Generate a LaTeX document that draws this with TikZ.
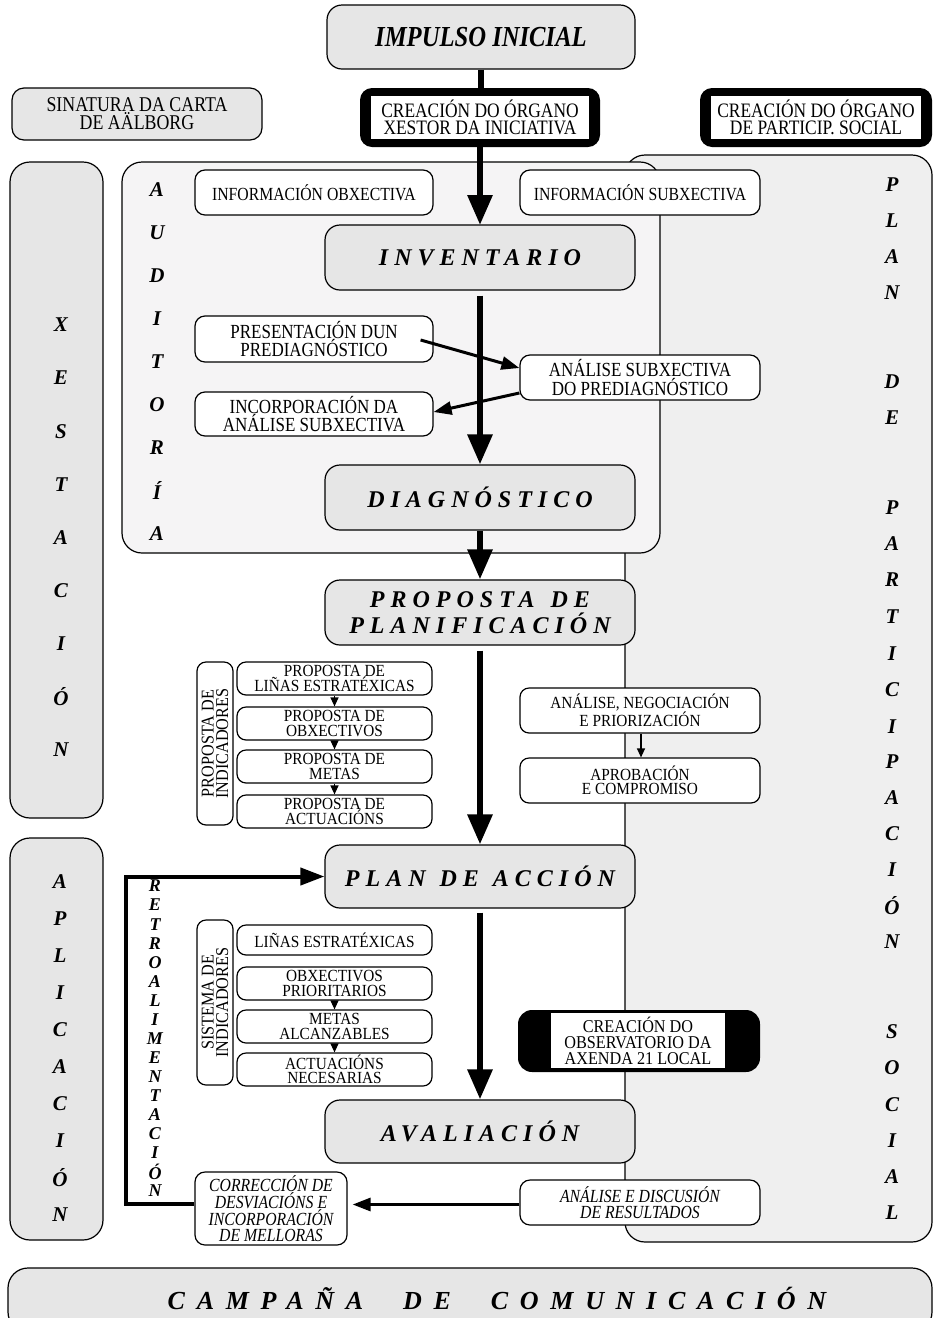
\documentclass[tikz,border=0pt]{standalone}
\usepackage{fontspec}
\setmainfont{Liberation Serif}
\newfontfamily\cnd[FakeStretch=0.85]{Liberation Serif}
\newfontfamily\cndb[FakeStretch=0.9]{Liberation Serif}
\newfontfamily\spc[LetterSpace=25]{Liberation Serif}
\newfontfamily\spcw[LetterSpace=45]{Liberation Serif}
\usetikzlibrary{arrows.meta}
\definecolor{boxgray}{HTML}{E6E6E6}
\definecolor{plangray}{HTML}{EFEFEF}
\definecolor{audgray}{HTML}{F5F4F5}
\tikzset{
  panel/.style={draw=black, line width=1.2pt, rounded corners=20pt, inner sep=0pt},
  box/.style={draw=black, line width=1.2pt, rounded corners=10pt, align=center, inner sep=0pt},
  wbox/.style={box, fill=white, font=\cnd\fontsize{20}{16.5}\selectfont},
  ibox/.style={box, fill=white, font=\cnd\fontsize{18.5}{15}\selectfont},
  gbox/.style={box, fill=boxgray, rounded corners=15pt},
  head/.style={font=\spc\bfseries\itshape\fontsize{24}{24}\selectfont},
  sbox/.style={box, fill=white, rounded corners=9pt, font=\cndb\fontsize{17}{14.5}\selectfont},
  blk/.style={fill=black, rounded corners=12pt, inner sep=0pt},
  wtext/.style={fill=white, inner sep=0pt, align=center},
  col/.style={font=\bfseries\itshape\fontsize{21}{21}\selectfont, inner sep=0pt},
  rcol/.style={font=\bfseries\itshape\fontsize{18}{18}\selectfont, inner sep=0pt},
  big/.style={line width=6pt, -{Triangle[width=24pt,length=30pt]}},
  mid/.style={line width=3pt, -{Triangle[width=13pt,length=18pt]}},
  tiny/.style={line width=1.2pt, -{Triangle[width=8pt,length=9pt]}}
}
\begin{document}
\begin{tikzpicture}[x=1pt,y=-1pt]
\useasboundingbox (0,0) rectangle (935,1318);
% panels
\node[panel, fill=plangray, minimum width=307pt, minimum height=1087pt] (plan) at (778.5,698.5) {};
\node[panel, fill=audgray, minimum width=538pt, minimum height=391pt] (aud) at (391,357.5) {};
\node[panel, fill=boxgray, minimum width=93pt, minimum height=656pt] (xest) at (56.5,490) {};
\node[panel, fill=boxgray, minimum width=93pt, minimum height=402pt] (apl) at (56.5,1039) {};
\node[panel, fill=boxgray, minimum width=924pt, minimum height=64pt] (camp) at (470,1300) {};
\node[font=\spcw\bfseries\itshape\fontsize{26}{26}\selectfont, inner sep=0pt] (campt) at (497,1298) {CAMPAÑA\hspace{40pt}DE\hspace{40pt}COMUNICACIÓN};

% column letters
\foreach \l [count=\i] in {X,E,S,T,A,C,I,Ó,N}
  \node[col] (xl\i) at (61,{325+53.1*(\i-1)}) {\l};
\foreach \l [count=\i] in {A,P,L,I,C,A,C,I,Ó,N}
  \node[col] (al\i) at (60,{882+37*(\i-1)}) {\l};
\foreach \l [count=\i] in {A,U,D,I,T,O,R,Í,A}
  \node[col] (ul\i) at (157,{190+42.9*(\i-1)}) {\l};
\foreach \l/\y [count=\i] in {P/185,L/221,A/257,N/293,D/382,E/418,P/508,A/544,R/580,T/617,I/654,C/690,I/727,P/762,A/798,C/834,I/870,Ó/906,N/942,S/1032,O/1068,C/1105,I/1141,A/1177,L/1213}
  \node[col] (pl\i) at (892,\y) {\l};
\foreach \l [count=\i] in {R,E,T,R,O,A,L,I,M,E,N,T,A,C,I,Ó,N}
  \node[rcol] (rl\i) at (155,{886+19.05*(\i-1)}) {\l};

% top row
\node[gbox, minimum width=308pt, minimum height=64pt, font=\cnd\bfseries\itshape\fontsize{29}{29}\selectfont] (imp) at (481,37) {IMPULSO INICIAL};
\node[gbox, rounded corners=12pt, minimum width=250pt, minimum height=52pt, font=\cnd\fontsize{21}{18}\selectfont] (sin) at (137,114) {SINATURA DA CARTA\\DE AÄLBORG};
\node[blk, minimum width=240pt, minimum height=59pt] (cx) at (480,117.5) {};
\node[wtext, minimum width=218pt, minimum height=43pt, font=\cnd\fontsize{20.5}{17.5}\selectfont] (cxt) at (cx.center) {CREACIÓN DO ÓRGANO\\XESTOR DA INICIATIVA};
\node[blk, minimum width=232pt, minimum height=59pt] (cp) at (816,117.5) {};
\node[wtext, minimum width=210pt, minimum height=43pt, font=\cnd\fontsize{20.5}{17.5}\selectfont] (cpt) at (cp.center) {CREACIÓN DO ÓRGANO\\DE PARTICIP. SOCIAL};

% main arrows
\draw[line width=6pt] (imp.south) -- (imp.south |- cx.north);
\draw[big] (cx.south) -- (cx.south |- 0,225);

% auditoria content
\node[ibox, minimum width=238pt, minimum height=45pt] (infoo) at (314,192.5) {INFORMACIÓN OBXECTIVA};
\node[ibox, minimum width=240pt, minimum height=45pt] (infos) at (640,192.5) {INFORMACIÓN SUBXECTIVA};
\node[gbox, minimum width=310pt, minimum height=65pt, head] (inv) at (480,257.5) {INVENTARIO};
\node[wbox, minimum width=238pt, minimum height=46pt] (pres) at (314,339) {PRESENTACIÓN DUN\\PREDIAGNÓSTICO};
\node[wbox, minimum width=240pt, minimum height=45pt] (anas) at (640,377.5) {ANÁLISE SUBXECTIVA\\DO PREDIAGNÓSTICO};
\node[wbox, minimum width=238pt, minimum height=44pt] (inc) at (314,414) {INCORPORACIÓN DA\\ANÁLISE SUBXECTIVA};
\node[gbox, minimum width=310pt, minimum height=65pt, head] (diag) at (480,497.5) {DIAGNÓSTICO};

\draw[big, shorten <=5pt] (inv.south) -- (diag.north);
\draw[mid] ([xshift=-13pt,yshift=-1pt]pres.east) -- ([yshift=9.5pt]anas.west);
\draw[mid] ([yshift=-15.5pt]anas.west) -- ([yshift=2pt]inc.east);

% planificacion
\node[gbox, minimum width=310pt, minimum height=65pt, head] (prop) at (480,612.5) {PROPOSTA\hspace{16pt}DE\\[2pt]PLANIFICACIÓN};
\draw[big] (diag.south) -- (prop.north);

\node[box, fill=white, rounded corners=9pt, minimum width=163pt, minimum height=36pt, rotate=90, font=\cndb\fontsize{18}{14.5}\selectfont] (pind) at (215,743.5) {PROPOSTA DE\\INDICADORES};
\node[sbox, minimum width=195pt, minimum height=33pt] (p1) at (334.5,678.5) {PROPOSTA DE\\LIÑAS ESTRATÉXICAS};
\node[sbox, minimum width=195pt, minimum height=33pt] (p2) at (334.5,723.5) {PROPOSTA DE\\OBXECTIVOS};
\node[sbox, minimum width=195pt, minimum height=33pt] (p3) at (334.5,766.5) {PROPOSTA DE\\METAS};
\node[sbox, minimum width=195pt, minimum height=33pt] (p4) at (334.5,811.5) {PROPOSTA DE\\ACTUACIÓNS};
\draw[tiny] (p1.south) -- (p2.north);
\draw[tiny] (p2.south) -- (p3.north);
\draw[tiny] (p3.south) -- (p4.north);

\node[sbox, minimum width=240pt, minimum height=45pt] (ang) at (640,710.5) {ANÁLISE, NEGOCIACIÓN\\E PRIORIZACIÓN};
\node[sbox, minimum width=240pt, minimum height=45pt] (apr) at (640,780.5) {APROBACIÓN\\E COMPROMISO};
\draw[tiny] ([xshift=1pt]ang.south) -- ([xshift=1pt]apr.north);

% plan de accion
\node[gbox, minimum width=310pt, minimum height=63pt, head] (pda) at (480,876.5) {PLAN\hspace{14pt}DE\hspace{14pt}ACCIÓN};
\draw[big, shorten <=5pt] (prop.south) -- (pda.north);

\node[box, fill=white, rounded corners=9pt, minimum width=165pt, minimum height=36pt, rotate=90, font=\cndb\fontsize{18}{14.5}\selectfont] (sind) at (215,1002.5) {SISTEMA DE\\INDICADORES};
\node[sbox, minimum width=195pt, minimum height=30pt] (s1) at (334.5,940) {LIÑAS ESTRATÉXICAS};
\node[sbox, minimum width=195pt, minimum height=33pt] (s2) at (334.5,983.5) {OBXECTIVOS\\PRIORITARIOS};
\node[sbox, minimum width=195pt, minimum height=33pt] (s3) at (334.5,1026.5) {METAS\\ALCANZABLES};
\node[sbox, minimum width=195pt, minimum height=33pt] (s4) at (334.5,1069.5) {ACTUACIÓNS\\NECESARIAS};
\draw[tiny] (s2.south) -- (s3.north);
\draw[tiny] (s3.south) -- (s4.north);

\node[blk, rounded corners=14pt, minimum width=242pt, minimum height=62pt] (obs) at (639,1041) {};
\node[wtext, minimum width=174pt, minimum height=55pt, font=\cndb\fontsize{18}{16}\selectfont] (obst) at (638,1040.5) {CREACIÓN DO\\OBSERVATORIO DA\\AXENDA 21 LOCAL};

% avaliacion
\node[gbox, minimum width=310pt, minimum height=63pt, head] (aval) at (480,1131.5) {AVALIACIÓN};
\draw[big, shorten <=4pt] (pda.south) -- (aval.north);

\node[box, fill=white, minimum width=152pt, minimum height=73pt, font=\cnd\itshape\fontsize{18.5}{16}\selectfont] (corr) at (271,1208.5) {CORRECCIÓN DE\\DESVIACIÓNS E\\INCORPORACIÓN\\DE MELLORAS};
\node[box, fill=white, minimum width=240pt, minimum height=45pt, font=\cnd\itshape\fontsize{18.5}{16}\selectfont] (adr) at (640,1202.5) {ANÁLISE E DISCUSIÓN\\DE RESULTADOS};
\draw[mid, shorten >=5pt] ([yshift=-2pt]adr.west) -- ([yshift=-2pt]corr.east |- adr.west);

% retroalimentacion
\draw[line width=4pt, -{Triangle[width=17pt,length=24pt]}] ([yshift=5pt]corr.west) -- ++(-68,0) |- (pda.west);
\end{tikzpicture}
\end{document}
